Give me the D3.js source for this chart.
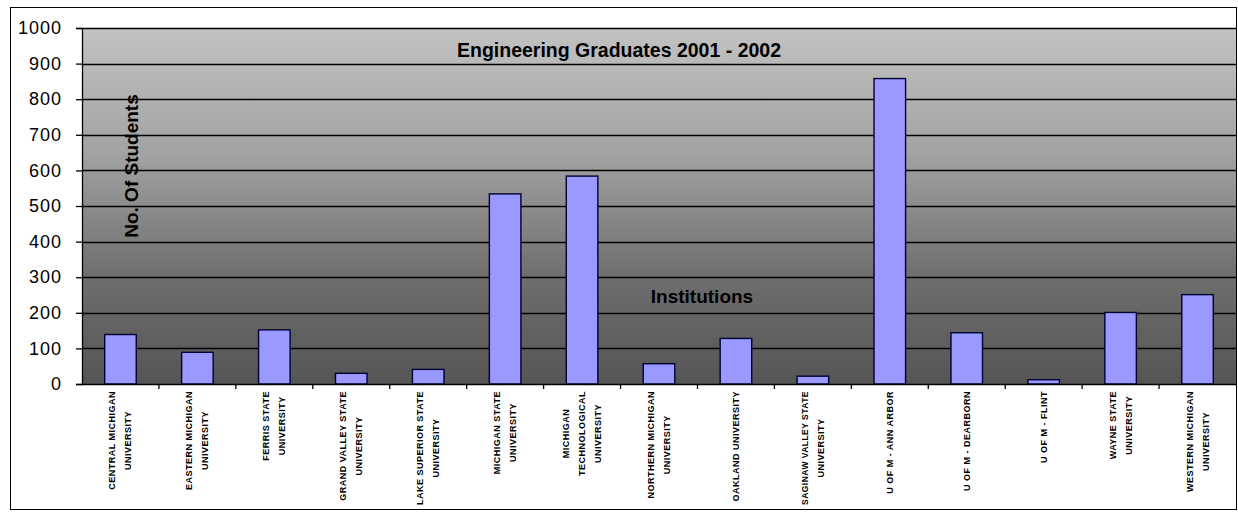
<!DOCTYPE html>
<html>
<head>
<meta charset="utf-8">
<script src="https://cdn.jsdelivr.net/npm/d3@7"></script>
<style>
  html, body { margin: 0; padding: 0; background: #ffffff; }
  svg { display: block; }
  text { font-family: "Liberation Sans", Arial, sans-serif; }
</style>
</head>
<body>
<svg id="chart" width="1238" height="513"></svg>
<script>
// ---- data ----
const categories = [
  "CENTRAL MICHIGAN\nUNIVERSITY",
  "EASTERN MICHIGAN\nUNIVERSITY",
  "FERRIS STATE\nUNIVERSITY",
  "GRAND VALLEY STATE\nUNIVERSITY",
  "LAKE SUPERIOR STATE\nUNIVERSITY",
  "MICHIGAN STATE\nUNIVERSITY",
  "MICHIGAN\nTECHNOLOGICAL\nUNIVERSITY",
  "NORTHERN MICHIGAN\nUNIVERSITY",
  "OAKLAND UNIVERSITY",
  "SAGINAW VALLEY STATE\nUNIVERSITY",
  "U OF M - ANN ARBOR",
  "U OF M - DEARBORN",
  "U OF M - FLINT",
  "WAYNE STATE\nUNIVERSITY",
  "WESTERN MICHIGAN\nUNIVERSITY"
];
const graduates = [139, 89, 152, 30, 41, 534, 584, 57, 128, 22, 858, 144, 12, 201, 251];
const yTicks = [0, 100, 200, 300, 400, 500, 600, 700, 800, 900, 1000];
const chartTitle = "Engineering Graduates 2001 - 2002";
const yTitle = "No. Of Students";
const xTitle = "Institutions";

// ---- layout ----
const svg = d3.select("#chart");
const plot = { left: 82, right: 1236, top: 28, bottom: 384 };

const x = d3.scaleBand()
  .domain(categories)
  .range([plot.left, plot.right])
  .paddingInner(0.59)
  .paddingOuter(0.295);
const xEdges = d3.scaleBand().domain(categories).range([plot.left, plot.right]);
const y = d3.scaleLinear().domain([0, 1000]).range([plot.bottom, plot.top]);

// outer frame
svg.append("rect")
  .attr("x", 10.5).attr("y", 7.5)
  .attr("width", 1226).attr("height", 502)
  .attr("fill", "#ffffff").attr("stroke", "#000").attr("stroke-width", 1);

// plot background gradient
const defs = svg.append("defs");
const grad = defs.append("linearGradient").attr("id", "bg")
  .attr("x1", 0).attr("y1", 0).attr("x2", 0).attr("y2", 1);
[[0, "#c2c2c2"], [0.35, "#a3a3a3"], [0.7, "#6e6e6e"], [1, "#555555"]].forEach(([o, c]) =>
  grad.append("stop").attr("offset", o).attr("stop-color", c));

svg.append("rect")
  .attr("x", plot.left).attr("y", plot.top)
  .attr("width", plot.right - plot.left).attr("height", plot.bottom - plot.top)
  .attr("fill", "url(#bg)");

// gridlines
svg.append("g").selectAll("line")
  .data(yTicks.filter(d => d > 0))
  .join("line")
  .attr("x1", plot.left).attr("x2", plot.right)
  .attr("y1", d => Math.round(y(d)) + 0.5).attr("y2", d => Math.round(y(d)) + 0.5)
  .attr("stroke", "#000").attr("stroke-width", 1.3);

// titles inside plot
svg.append("text")
  .attr("x", 619).attr("y", 57)
  .attr("text-anchor", "middle")
  .attr("font-size", 19.5).attr("font-weight", "bold")
  .attr("fill", "#000")
  .text(chartTitle);

svg.append("text")
  .attr("transform", "translate(138,166) rotate(-90)")
  .attr("text-anchor", "middle")
  .attr("font-size", 19).attr("font-weight", "bold")
  .attr("fill", "#000")
  .text(yTitle);

svg.append("text")
  .attr("x", 702).attr("y", 303)
  .attr("text-anchor", "middle")
  .attr("font-size", 19).attr("font-weight", "bold")
  .attr("fill", "#000")
  .text(xTitle);

// bars
svg.append("g").selectAll("rect")
  .data(categories.map((c, i) => ({ c, v: graduates[i] })))
  .join("rect")
  .attr("x", d => x(d.c))
  .attr("y", d => y(d.v))
  .attr("width", x.bandwidth())
  .attr("height", d => y(0) - y(d.v))
  .attr("fill", "#9999ff")
  .attr("stroke", "#000033")
  .attr("stroke-width", 1.4);

// y axis
const yAxis = d3.axisLeft(y).tickValues(yTicks).tickSize(6).tickPadding(14).tickFormat(d3.format("d"));
const gy = svg.append("g").attr("transform", `translate(${plot.left},0)`).call(yAxis);
gy.select(".domain").attr("stroke", "#000").attr("stroke-width", 1.3);
gy.selectAll(".tick line").attr("stroke", "#000").attr("stroke-width", 1.3);
gy.selectAll(".tick text")
  .attr("font-family", "'Liberation Sans', Arial, sans-serif")
  .attr("font-size", 18).attr("fill", "#000")
  .attr("letter-spacing", "1px");

// x axis line and tick marks at category boundaries
const gx = svg.append("g").attr("transform", `translate(0,${plot.bottom})`);
gx.append("line")
  .attr("x1", plot.left).attr("x2", plot.right)
  .attr("y1", 0.5).attr("y2", 0.5)
  .attr("stroke", "#000").attr("stroke-width", 1.3);
gx.selectAll("line.tk")
  .data(categories.slice(1))
  .join("line").attr("class", "tk")
  .attr("x1", d => xEdges(d)).attr("x2", d => xEdges(d))
  .attr("y1", 0).attr("y2", 5)
  .attr("stroke", "#000").attr("stroke-width", 1.3);

// category labels: rotated, multi-line, block top-aligned at y=391
const labelTop = 391;
const lineGap = 16;
const maxLabel = 114;
categories.forEach((c, i) => {
  const lines = c.split("\n");
  const cx = x(c) + x.bandwidth() / 2;
  const g = svg.append("g");
  const texts = lines.map((ln, j) => {
    const off = (j - (lines.length - 1) / 2) * lineGap;
    const t = g.append("text")
      .attr("font-size", 9).attr("font-weight", "bold")
      .attr("letter-spacing", "0.5px")
      .attr("fill", "#000")
      .attr("text-anchor", "middle")
      .attr("dominant-baseline", "central")
      .attr("data-off", off)
      .text(ln);
    if (t.node().getComputedTextLength() > maxLabel) {
      t.attr("textLength", maxLabel).attr("lengthAdjust", "spacingAndGlyphs");
    }
    return t;
  });
  const maxLen = d3.max(texts, t => Math.min(maxLabel, t.node().getComputedTextLength()));
  const cy = labelTop + maxLen / 2;
  texts.forEach(t => {
    const off = +t.attr("data-off");
    t.attr("transform", `translate(${cx + off},${cy}) rotate(-90)`);
  });
});
</script>
</body>
</html>
